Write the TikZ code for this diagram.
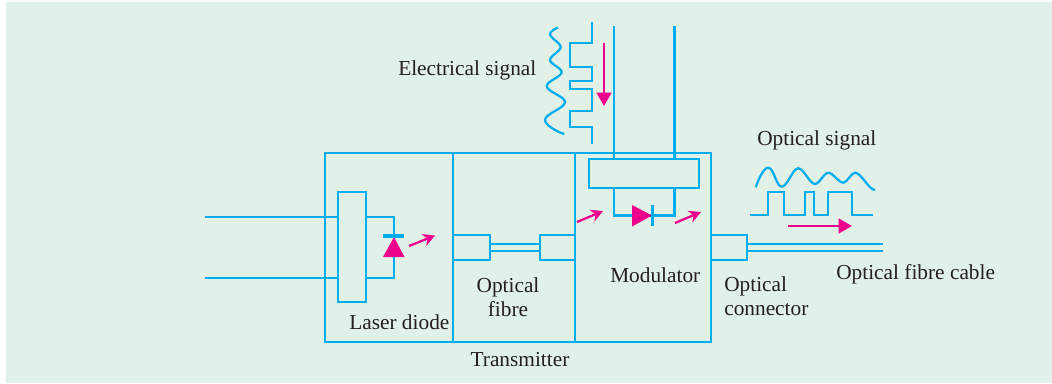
\documentclass[tikz,border=0pt]{standalone}
\usepackage{fontspec}
\setmainfont{Liberation Serif}
\usetikzlibrary{arrows.meta}
\definecolor{paneback}{HTML}{E2F1E7}
\definecolor{linkblue}{HTML}{00AEEF}
\definecolor{lightpink}{HTML}{EC008C}
\definecolor{textdark}{HTML}{231F20}
\tikzset{
    wire/.style={linkblue, line width=1.7pt},
    wavy/.style={wire, looseness=0.6},
    partbox/.style={draw=linkblue, line width=1.7pt, inner sep=0pt},
    lightray/.style={lightpink, line width=1.7pt, -{Stealth[length=9pt,width=9.5pt]}},
    bigray/.style={lightpink, line width=1.7pt, -{Triangle[length=10pt,width=11pt]}},
    caption/.style={text=textdark, font=\fontsize{16}{18}\selectfont, inner sep=0pt, align=center}
}

\begin{document}
\begin{tikzpicture}[x=0.75pt, y=-0.75pt, >=Stealth]

    \useasboundingbox (0,0) rectangle (1052,383);
    \fill[white] (0,0) rectangle (1052,383);
    \fill[paneback] (6,2) rectangle (1052,383);

    % Transmitter housing
    \node[partbox, minimum width=289.5pt, minimum height=141.75pt] (housing) at (518,247.5) {};
    \coordinate (divAtop) at (453,153);
    \coordinate (divAbot) at (453,342);
    \coordinate (divBtop) at (575,153);
    \coordinate (divBbot) at (575,342);
    \draw[wire] (divAtop) -- (divAbot);
    \draw[wire] (divBtop) -- (divBbot);

    % Laser diode
    \node[partbox, minimum width=21pt, minimum height=82.5pt] (driver) at (352,247) {};
    \coordinate (leadA) at (205,217);
    \coordinate (leadB) at (205,278);
    \coordinate (laserTop) at (394,217);
    \coordinate (laserBot) at (394,278);
    \draw[wire] (leadA) -- (leadA -| driver.west);
    \draw[wire] (leadB) -- (leadB -| driver.west);
    \draw[wire] (laserTop -| driver.east) -- (laserTop) -- (laserBot) -- (laserBot -| driver.east);
    \fill[lightpink] (394,237) -- (404.5,257) -- (383,257) -- cycle;
    \draw[linkblue, line width=2.7pt] (383,236) -- (404,236);
    \coordinate (rayAa) at (409,246);
    \coordinate (rayAb) at (435,235.5);
    \draw[lightray] (rayAa) -- (rayAb);

    % Optical fibre
    \node[partbox, minimum width=27.5pt, minimum height=18.75pt] (fibreL) at (471.5,247.5) {};
    \node[partbox, minimum width=26.25pt, minimum height=18.75pt] (fibreR) at (557.5,247.5) {};
    \draw[wire] ([yshift=2.8pt]fibreL.east) -- ([yshift=2.8pt]fibreR.west);
    \draw[wire] ([yshift=-2.8pt]fibreL.east) -- ([yshift=-2.8pt]fibreR.west);

    % Modulator
    \node[partbox, minimum width=82.5pt, minimum height=21.75pt] (modbox) at (644,173.5) {};
    \coordinate (railA) at (614,26);
    \coordinate (railB) at (674.5,26);
    \coordinate (modA) at (614,215.5);
    \coordinate (modB) at (674.5,215.5);
    \draw[wire] (railA) -- (railA |- modbox.north);
    \draw[wire] (railB) -- (railB |- modbox.north);
    \draw[wire] (modA |- modbox.south) -- (modA) -- (modB) -- (modB |- modbox.south);
    \fill[lightpink] (632,205) -- (652,215.5) -- (632,226.5) -- cycle;
    \draw[linkblue, line width=2.7pt] (652.5,205) -- (652.5,226);
    \coordinate (rayBa) at (577,222);
    \coordinate (rayBb) at (603,211);
    \coordinate (rayCa) at (675,223);
    \coordinate (rayCb) at (701,212);
    \draw[lightray] (rayBa) -- (rayBb);
    \draw[lightray] (rayCa) -- (rayCb);

    % Connector and cable
    \node[partbox, minimum width=27pt, minimum height=18.75pt] (connbox) at (729,247.5) {};
    \coordinate (cableEnd) at (883,247.5);
    \draw[wire] ([yshift=2.8pt]connbox.east) -- ([yshift=2.8pt]cableEnd);
    \draw[wire] ([yshift=-2.8pt]connbox.east) -- ([yshift=-2.8pt]cableEnd);

    % Electrical signal
    \draw[wavy] (558,27.7) to[out=190,in=90] (550,34) to[out=-90,in=90] (560.7,47) to[out=-90,in=90] (550,60)
        to[out=-90,in=90] (561.7,72) to[out=-90,in=90] (546.7,86) to[out=-90,in=90] (565,102)
        to[out=-90,in=90] (545,120) to[out=-90,in=165] (564.3,134);
    \draw[wire] (592.3,21.7) -- (592.3,43.3) -- (570,43.3) -- (570,67.3) -- (592.3,67.3) -- (592.3,80.7) -- (570,80.7) -- (570,89.3) -- (592.3,89.3) -- (592.3,110.7) -- (570,110.7) -- (570,126.7) -- (592.3,126.7) -- (592.3,144.3);
    \coordinate (elecA) at (604,42.7);
    \coordinate (elecB) at (604,106);
    \draw[bigray] (elecA) -- (elecB);

    % Optical signal
    \draw[wavy] (755.7,187.3) to[out=70,in=180] (768.3,167.7) to[out=0,in=180] (781.7,186.7) to[out=0,in=180] (798.3,168.3)
        to[out=0,in=180] (815,184) to[out=0,in=180] (828.3,172.7) to[out=0,in=180] (843.3,182.7)
        to[out=0,in=180] (855,172.7) to[out=0,in=180] (875,190);
    \draw[wire] (750,214.7) -- (768.3,214.7) -- (768.3,192.3) -- (784,192.3) -- (784,214.7) -- (805,214.7) -- (805,192.3) -- (814.3,192.3) -- (814.3,214.7) -- (827.7,214.7) -- (827.7,192.3) -- (851.7,192.3) -- (851.7,214.7) -- (873,214.7);
    \coordinate (optA) at (788,226);
    \coordinate (optB) at (852,226);
    \draw[bigray] (optA) -- (optB);

    % Labels
    \node[caption, anchor=base west] (elecLabel) at (398,75) {Electrical signal};
    \node[caption, anchor=base west] (optLabel) at (757,145.5) {Optical signal};
    \node[caption, anchor=base west] (laserLabel) at (349,329) {Laser diode};
    \node[caption] (fibreLabel) at (508,297.5) {Optical\\fibre};
    \node[caption, anchor=base west] (modLabel) at (610,282) {Modulator};
    \node[caption, anchor=west, align=left] (connLabel) at (724,296) {Optical\\connector};
    \node[caption, anchor=base west] (cableLabel) at (836,279) {Optical fibre cable};
    \node[caption, anchor=base] (housingLabel) at (520,366) {Transmitter};

\end{tikzpicture}
\end{document}
